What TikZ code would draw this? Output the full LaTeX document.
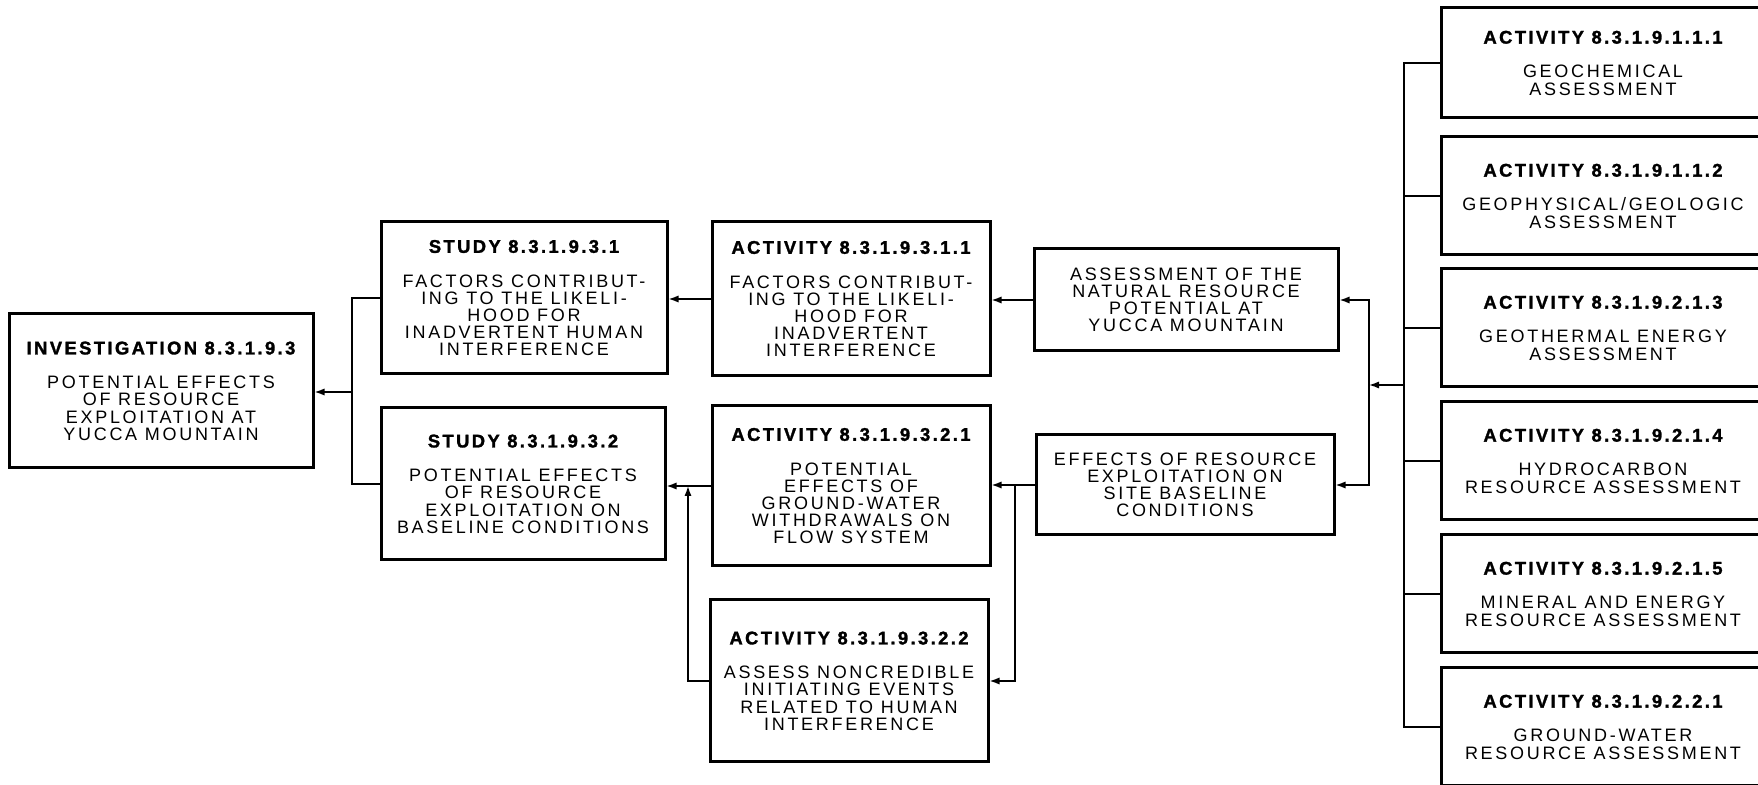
\documentclass[tikz,border=0pt]{standalone}
\usepackage{fontspec}
\setmainfont{Liberation Sans}
\newfontfamily\headfont[LetterSpace=13,BoldFeatures={FakeBold=1.5}]{Liberation Sans}
\newfontfamily\bodyfont[LetterSpace=15]{Liberation Sans}
\usetikzlibrary{arrows.meta,positioning,calc}
\newcommand{\hd}[1]{{\headfont\bfseries\fontsize{9.2}{9}\selectfont #1}\\[8.5pt]}

\begin{document}
\begin{tikzpicture}[x=0.5pt,y=-0.5pt,>={Latex[length=5pt,width=3.6pt]},
  box/.style={draw,line width=1.5pt,align=center,inner sep=2pt,
              font=\bodyfont\fontsize{9}{8.6}\selectfont},
  act/.style={box,minimum width=162pt,minimum height=59pt},
  link/.style={line width=0.8pt}]

  \path[use as bounding box,fill=white] (0,0) rectangle (1758,785);

  % ---------- investigation / studies ----------
  \node[box,minimum width=152pt,minimum height=77pt] (inv) at (161,391)
    {\hd{INVESTIGATION 8.3.1.9.3}POTENTIAL EFFECTS\\OF RESOURCE\\EXPLOITATION AT\\YUCCA MOUNTAIN};
  \node[box,minimum width=143pt,minimum height=76pt] (st1) at (524,298)
    {\hd{STUDY 8.3.1.9.3.1}FACTORS CONTRIBUT-\\ING TO THE LIKELI-\\HOOD FOR\\INADVERTENT HUMAN\\INTERFERENCE};
  \node[box,minimum width=142pt,minimum height=76pt] (st2) at (523,484)
    {\hd{STUDY 8.3.1.9.3.2}POTENTIAL EFFECTS\\OF RESOURCE\\EXPLOITATION ON\\BASELINE CONDITIONS};

  % ---------- activities 8.3.1.9.3 ----------
  \node[box,minimum width=139pt,minimum height=77pt] (a9311) at (851,299)
    {\hd{ACTIVITY 8.3.1.9.3.1.1}FACTORS CONTRIBUT-\\ING TO THE LIKELI-\\HOOD FOR\\INADVERTENT\\INTERFERENCE};
  \node[box,minimum width=139pt,minimum height=80pt] (a9321) at (851,486)
    {\hd{ACTIVITY 8.3.1.9.3.2.1}POTENTIAL\\EFFECTS OF\\GROUND-WATER\\WITHDRAWALS ON\\FLOW SYSTEM};
  \node[box,minimum width=139pt,minimum height=81pt] (a9322) at (849,681)
    {\hd{ACTIVITY 8.3.1.9.3.2.2}ASSESS NONCREDIBLE\\INITIATING EVENTS\\RELATED TO HUMAN\\INTERFERENCE};

  % ---------- site information ----------
  \node[box,minimum width=152pt,minimum height=51pt] (natres) at (1186,300)
    {ASSESSMENT OF THE\\NATURAL RESOURCE\\POTENTIAL AT\\YUCCA MOUNTAIN};
  \node[box,minimum width=149pt,minimum height=50pt] (effres) at (1185,485)
    {EFFECTS OF RESOURCE\\EXPLOITATION ON\\SITE BASELINE\\CONDITIONS};

  % ---------- activities 8.3.1.9.1 / 8.3.1.9.2 ----------
  \node[act,minimum height=55pt] (r1) at (1603,63)
    {\hd{ACTIVITY 8.3.1.9.1.1.1}GEOCHEMICAL\\ASSESSMENT};
  \node[act] (r2) at (1603,196)
    {\hd{ACTIVITY 8.3.1.9.1.1.2}GEOPHYSICAL/GEOLOGIC\\ASSESSMENT};
  \node[act] (r3) at (1603,328)
    {\hd{ACTIVITY 8.3.1.9.2.1.3}GEOTHERMAL ENERGY\\ASSESSMENT};
  \node[act] (r4) at (1603,461)
    {\hd{ACTIVITY 8.3.1.9.2.1.4}HYDROCARBON\\RESOURCE ASSESSMENT};
  \node[act] (r5) at (1603,594)
    {\hd{ACTIVITY 8.3.1.9.2.1.5}MINERAL AND ENERGY\\RESOURCE ASSESSMENT};
  \node[act] (r6) at (1603,727)
    {\hd{ACTIVITY 8.3.1.9.2.2.1}GROUND-WATER\\RESOURCE ASSESSMENT};

  % ---------- junctions ----------
  \coordinate (bus) at (1404,385);
  \coordinate (spl) at (1369,385);
  \coordinate (br) at (1015,485);
  \coordinate (rt) at (688,486);
  \coordinate (sbus) at (352,392);

  % ---------- connectors ----------
  \draw[link] (r1.west) -| (bus) |- (r6.west);
  \foreach \n in {r2,r3,r4,r5}
    \draw[link] (\n.west) -- (\n.west -| bus);
  \draw[link,->] (bus) -- (spl);
  \draw[link,->] (spl) |- (natres.east);
  \draw[link,->] (spl) |- (effres.east);
  \draw[link,->] (natres.west) -- (natres.west -| a9311.east);
  \draw[link,->] (effres.west) -- (effres.west -| a9321.east);
  \draw[link,->] (br) |- (a9322.east);
  \draw[link,->] (a9311.west) -- (a9311.west -| st1.east);
  \draw[link,->] (a9321.west) -- (a9321.west -| st2.east);
  \draw[link,->] (a9322.west) -| (rt);
  \draw[link] (st1.west) -| (sbus) |- (st2.west);
  \draw[link,->] (sbus) -- (sbus -| inv.east);
\end{tikzpicture}
\end{document}
